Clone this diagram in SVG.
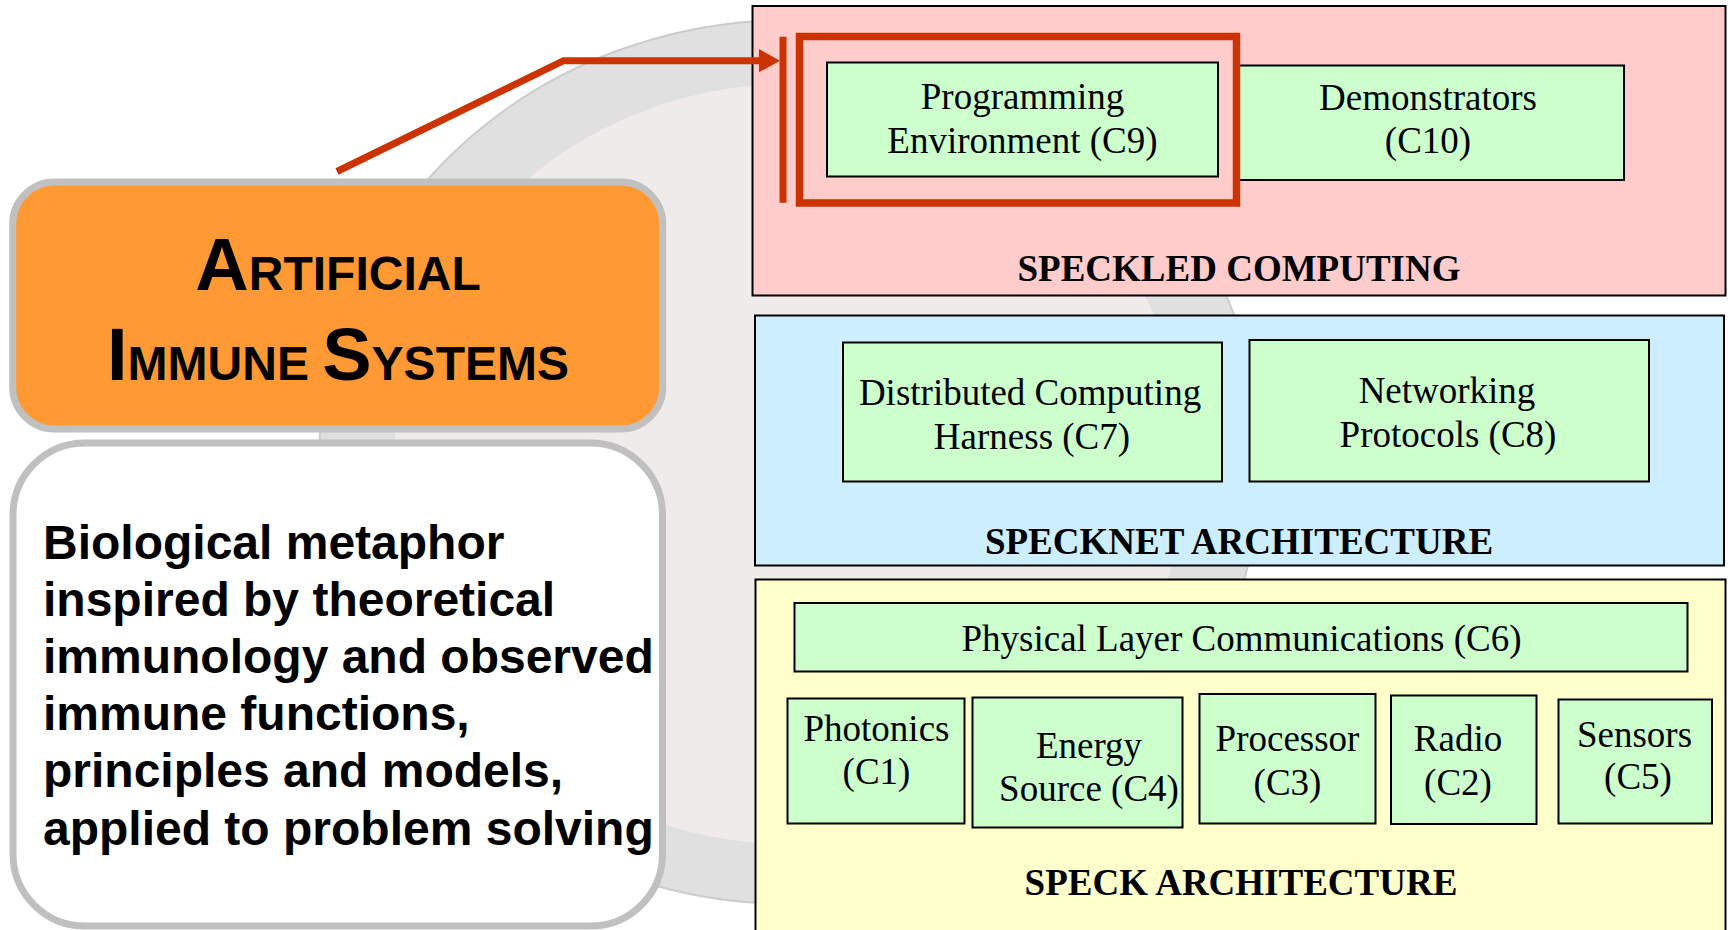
<svg xmlns="http://www.w3.org/2000/svg" width="1732" height="930" viewBox="0 0 1732 930">
<defs>
<style>
.t{font-family:"Liberation Serif","Times New Roman",serif;font-size:37px;fill:#000;text-anchor:middle}
.h{font-family:"Liberation Serif","Times New Roman",serif;font-size:37px;font-weight:bold;fill:#000;text-anchor:middle}
.b{font-family:"Liberation Sans",Arial,sans-serif;font-size:48px;font-weight:bold;fill:#000}
.ttl{font-family:"Liberation Sans",Arial,sans-serif;font-weight:bold;fill:#000;text-anchor:middle}
.g{fill:#ccffcc;stroke:#000;stroke-width:2}
.layer{stroke:#000;stroke-width:2}
.red{stroke:#cc3300;fill:none}
</style>
<marker id="arr" markerUnits="userSpaceOnUse" markerWidth="22" markerHeight="24" refX="0" refY="11.6" orient="auto">
<path d="M0,0 L21,11.6 L0,23.2 Z" fill="#cc3300"/>
</marker>
</defs>
<rect width="1732" height="930" fill="#ffffff"/>
<g id="background-plate">
<ellipse cx="790" cy="462" rx="471" ry="442" fill="#e0e0e0" stroke="#cccccc" stroke-width="2"/>
<ellipse cx="790" cy="464" rx="396" ry="380" fill="#efebeb"/>
</g>
<g id="ais-title">
<rect x="12.7" y="182" width="650" height="247" rx="42" fill="#ff9933" stroke="#c0c0c0" stroke-width="7"/>
<text class="ttl" x="338" y="290"><tspan font-size="74">A</tspan><tspan font-size="48">RTIFICIAL</tspan></text>
<text class="ttl" x="338" y="380"><tspan font-size="74">I</tspan><tspan font-size="48">MMUNE </tspan><tspan font-size="74">S</tspan><tspan font-size="48">YSTEMS</tspan></text>
</g>
<g id="ais-description">
<rect x="13" y="443" width="649.5" height="483" rx="72" fill="#ffffff" stroke="#c0c0c0" stroke-width="7"/>
<text class="b" x="43" y="559">Biological metaphor</text>
<text class="b" x="43" y="615.5">inspired by theoretical</text>
<text class="b" x="43" y="672.5">immunology and observed</text>
<text class="b" x="43" y="730">immune functions,</text>
<text class="b" x="43" y="787">principles and models,</text>
<text class="b" x="43" y="845">applied to problem solving</text>
</g>
<g id="speckled-computing">
<rect class="layer" x="752.5" y="6" width="973" height="289.5" fill="#ffcccc"/>
<text class="h" x="1239" y="281">SPECKLED COMPUTING</text>
</g>
<g id="specknet-architecture">
<rect class="layer" x="755" y="315.5" width="969" height="250" fill="#cceeff"/>
<text class="h" x="1239" y="554">SPECKNET ARCHITECTURE</text>
</g>
<g id="speck-architecture">
<rect class="layer" x="755.5" y="579.5" width="970" height="370" fill="#ffffcc"/>
<text class="h" x="1241" y="895">SPECK ARCHITECTURE</text>
</g>
<g id="c10">
<rect class="g" x="1236" y="65.5" width="388" height="114.5"/>
<text class="t" x="1428" y="110">Demonstrators</text>
<text class="t" x="1428" y="153">(C10)</text>
</g>
<g id="c9">
<rect class="g" x="827" y="62.5" width="391" height="114"/>
<text class="t" x="1022.5" y="109">Programming</text>
<text class="t" x="1022.5" y="152.5">Environment (C9)</text>
</g>
<g id="c7">
<rect class="g" x="843" y="342.5" width="379" height="139"/>
<text class="t" x="1030" y="405">Distributed Computing</text>
<text class="t" x="1032" y="449">Harness (C7)</text>
</g>
<g id="c8">
<rect class="g" x="1249.5" y="340" width="399.5" height="141.5"/>
<text class="t" x="1447" y="403">Networking</text>
<text class="t" x="1448" y="447">Protocols (C8)</text>
</g>
<g id="c6">
<rect class="g" x="794.5" y="603" width="893" height="68.5"/>
<text class="t" x="1241.5" y="651">Physical Layer Communications (C6)</text>
</g>
<g id="c1">
<rect class="g" x="787.5" y="698.5" width="177" height="125"/>
<text class="t" x="876.5" y="741">Photonics</text>
<text class="t" x="876.5" y="784">(C1)</text>
</g>
<g id="c4">
<rect class="g" x="972.5" y="697.5" width="210" height="130"/>
<text class="t" x="1089" y="758">Energy</text>
<text class="t" x="1089" y="801">Source (C4)</text>
</g>
<g id="c3">
<rect class="g" x="1199.5" y="694" width="176" height="129.5"/>
<text class="t" x="1287.5" y="751">Processor</text>
<text class="t" x="1287.5" y="795">(C3)</text>
</g>
<g id="c2">
<rect class="g" x="1391" y="695.5" width="145.5" height="128.5"/>
<text class="t" x="1458" y="751">Radio</text>
<text class="t" x="1458" y="795">(C2)</text>
</g>
<g id="c5">
<rect class="g" x="1558.5" y="699.5" width="153.5" height="124"/>
<text class="t" x="1634.5" y="747">Sensors</text>
<text class="t" x="1638" y="789">(C5)</text>
</g>
<g id="highlight">
<rect class="red" x="799.5" y="36.5" width="437" height="166.5" stroke-width="7.5"/>
</g>
<g id="connectors">
<polyline class="red" points="337,171.5 563.5,60.7 759,60.7" stroke-width="7" stroke-linejoin="miter" marker-end="url(#arr)"/>
<line class="red" x1="783" y1="36.7" x2="783" y2="202.7" stroke-width="7"/>
</g>
</svg>
